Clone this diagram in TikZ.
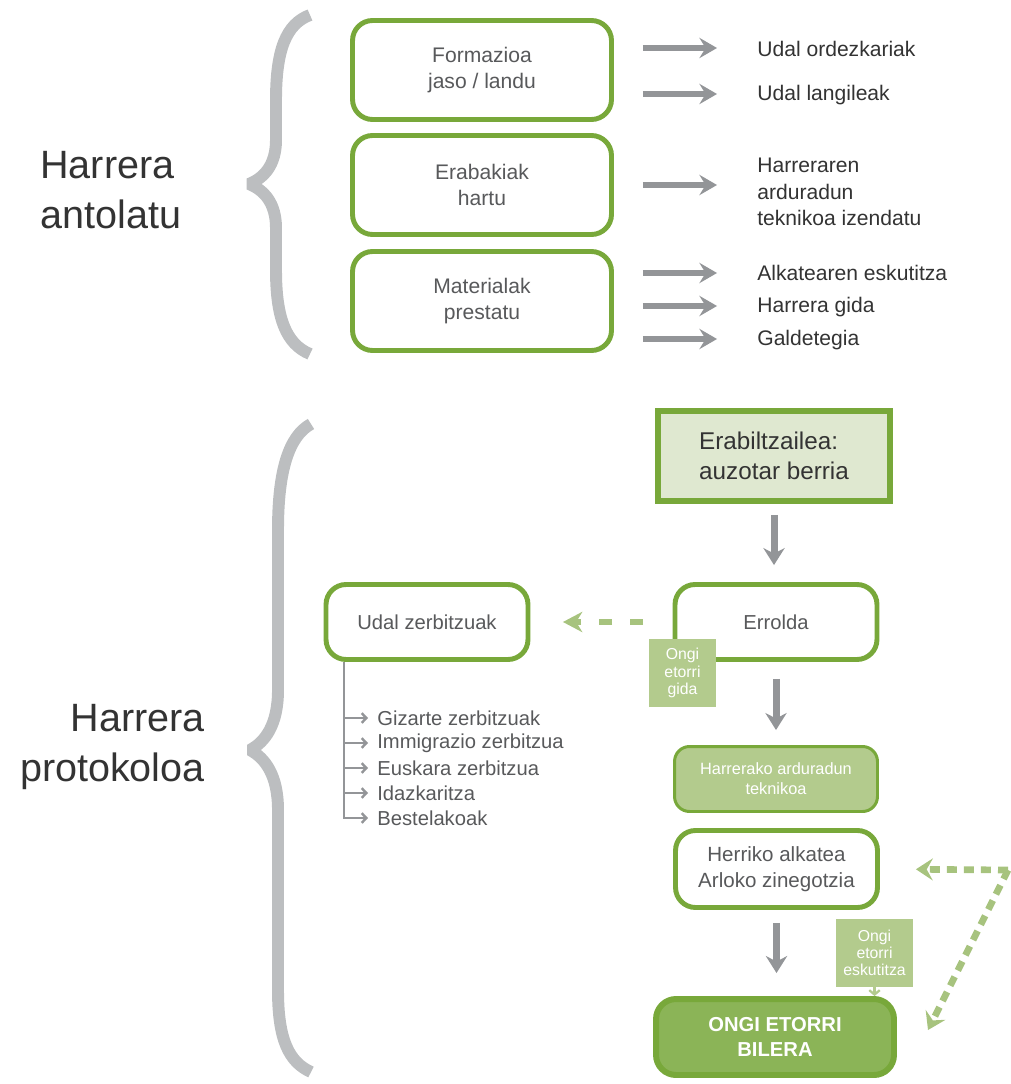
\documentclass[tikz,border=0pt]{standalone}
\usepackage{fontspec}
\setmainfont{Liberation Sans}
\usetikzlibrary{arrows.meta}

\definecolor{kBerde}{HTML}{78A83A}
\definecolor{kArgi}{HTML}{DFE8D0}
\definecolor{kErdi}{HTML}{B3CB8D}
\definecolor{kIlun}{HTML}{8BB457}
\definecolor{kMarra}{HTML}{A7C37E}
\definecolor{kGezi}{HTML}{939598}
\definecolor{kGiltza}{HTML}{BCBEC0}
\definecolor{kTestu}{HTML}{58595B}
\definecolor{kBeltz}{HTML}{333333}

\tikzset{
	kutxa/.style={draw=kBerde, line width=2.8pt, rounded corners=0.4cm, fill=white, align=center, text=kTestu, font=\fontsize{12}{15}\selectfont, minimum width=5.18cm, minimum height=1.98cm},
	kutxatxo/.style={kutxa, font=\fontsize{11.5}{14.5}\selectfont, minimum width=4.04cm, minimum height=1.5cm},
	etiketa/.style={anchor=west, inner sep=0pt, align=left, text=kBeltz, font=\fontsize{12}{15}\selectfont},
	handia/.style={inner sep=0pt, text=kBeltz, font=\fontsize{22.5}{28.5}\selectfont},
	txartela/.style={fill=kErdi, text=white, align=center, inner sep=1pt, font=\fontsize{9}{9.8}\selectfont, minimum width=1.34cm, minimum height=1.36cm},
	zerrenda/.style={anchor=west, inner sep=0pt, text=kTestu, font=\fontsize{11.5}{14}\selectfont},
	kortxetea/.style={draw=kGiltza, line width=6.8pt, line join=bevel},
	gezi/.style={draw=kGezi, line width=3.4pt, -{Stealth[length=10pt, width=11.5pt, inset=3.5pt]}},
	behera/.style={draw=kGezi, line width=4pt, -{Stealth[length=9.6pt, width=12pt, inset=3pt]}},
	marra/.style={draw=kMarra, line width=3.4pt, dash pattern=on 7.4pt off 10.2pt, -{Stealth[length=11pt, width=11.5pt, inset=3.5pt]}},
	puntuak/.style={draw=kMarra, line width=3.8pt, dash pattern=on 5.7pt off 4pt, -{Stealth[length=9.6pt, width=12.5pt, inset=3.5pt]}},
	zerrendagezi/.style={draw=kGezi, line width=1.4pt, -{Straight Barb[length=2.6pt, width=5.5pt]}}
}

\begin{document}
\begin{tikzpicture}[x=0.02cm, y=-0.02cm]
\useasboundingbox (0,0) rectangle (1010,1084);

%Giltzak
\draw[kortxetea] (310,15) .. controls (286,24) and (276,50) .. (276,100) -- (276,140)
	.. controls (276,165) and (264,178) .. (249,184) .. controls (264,190) and (276,203) .. (276,228)
	-- (276,270) .. controls (276,318) and (286,344) .. (310,354);
\draw[kortxetea] (311,424) .. controls (289,436) and (278,470) .. (278,530) -- (278,690)
	.. controls (278,725) and (265,742) .. (250,750) .. controls (265,758) and (278,775) .. (278,810)
	-- (278,990) .. controls (278,1040) and (289,1062) .. (311,1072);

\node[handia, anchor=west, align=left] (antolatu) at (40,190) {Harrera\\antolatu};
\node[handia, anchor=east, align=right] (protokoloa) at (205,747) {Harrera\\protokoloa};

%Harrera antolatu
\node[kutxa] (formazioa) at (482,70) {Formazioa\\jaso / landu};
\node[kutxa] (erabakiak) at (482,185) {Erabakiak\\hartu};
\node[kutxa] (materialak) at (482,301) {Materialak\\prestatu};

\foreach \izena/\ly/\gy/\testua/\kutxa in
{
ordezkariak/49/48/{Udal ordezkariak}/formazioa,
langileak/95/94/{Udal langileak}/formazioa,
teknikoaizen/192/185/{Harreraren\\arduradun\\teknikoa izendatu}/erabakiak,
eskutitzaa/273/273/{Alkatearen eskutitza}/materialak,
gidaa/307/306/{Harrera gida}/materialak,
galdetegia/340/339/{Galdetegia}/materialak%
}
{
	\node[etiketa] (\izena) at (757,\ly) {\testua};
	\draw[gezi, shorten <=0.58cm, shorten >=0.8cm] (\kutxa.east |- 0,\gy) -- (\izena.west |- 0,\gy);
}

%Harrera protokoloa
\node[draw=kBerde, line width=3.4pt, fill=kArgi, align=left, text=kBeltz, font=\fontsize{13.8}{17}\selectfont, minimum width=4.64cm, minimum height=1.8cm] (erabiltzailea) at (774,456) {Erabiltzailea:\\auzotar berria};
\node[kutxatxo] (errolda) at (776,622) {Errolda};
\node[kutxatxo] (udal) at (427,622) {Udal zerbitzuak};
\node[txartela] (gida) at (682.5,673) {Ongi\\etorri\\gida};
\node[draw=kBerde, line width=1.7pt, fill=kErdi, rounded corners=0.3cm, align=center, text=white, font=\fontsize{9.3}{11.3}\selectfont, minimum width=4.06cm, minimum height=1.3cm] (teknikoa) at (776,779) {Harrerako arduradun\\teknikoa};
\node[kutxatxo, font=\fontsize{11.7}{14.7}\selectfont, minimum height=1.54cm] (alkatea) at (776.5,869) {Herriko alkatea\\Arloko zinegotzia};
\node[txartela, minimum width=1.54cm] (eskutitza) at (874.5,953) {Ongi\\etorri\\eskutitza};
\node[draw=kBerde, line width=3.4pt, fill=kIlun, rounded corners=0.4cm, align=center, text=white, font=\fontsize{11.5}{14.7}\selectfont\bfseries, minimum width=4.76cm, minimum height=1.52cm] (bilera) at (775,1037) {ONGI ETORRI\\BILERA};

\draw[behera, shorten <=0.22cm, shorten >=0.34cm] (erabiltzailea.south) -- (erabiltzailea.south |- errolda.north);
\draw[behera, shorten <=0.34cm, shorten >=0.3cm] (errolda.south) -- (errolda.south |- teknikoa.north);
\draw[behera, shorten <=0.26cm, shorten >=0.46cm] (alkatea.south) -- (alkatea.south |- bilera.north);
\draw[draw=kErdi, line width=1.3pt, -{Straight Barb[length=2.5pt, width=6pt]}] (eskutitza.south) -- (eskutitza.south |- bilera.north);

\draw[marra, shorten <=0.59cm, shorten >=0.65cm] (errolda.west) -- (udal.east);

\coordinate (izkina) at (1008,870);
\coordinate (bileragezi) at (928,1030);
\draw[puntuak, shorten >=0.72cm] (izkina) -- (alkatea.east);
\draw[puntuak] (izkina) -- (bileragezi);

%Udal zerbitzuak
\coordinate (enborra) at (344,662);
\foreach \izena/\y/\testua in
{
gizarte/718/Gizarte zerbitzuak,
immigrazio/743/Immigrazio zerbitzua,
euskara/768/Euskara zerbitzua,
idazkaritza/793/Idazkaritza,
bestelakoak/818/Bestelakoak%
}
{
	\node[zerrenda] (\izena) at (377,\y) {\testua};
	\draw[zerrendagezi, shorten >=0.18cm] (enborra) |- (\izena.west);
}

\end{tikzpicture}
\end{document}
